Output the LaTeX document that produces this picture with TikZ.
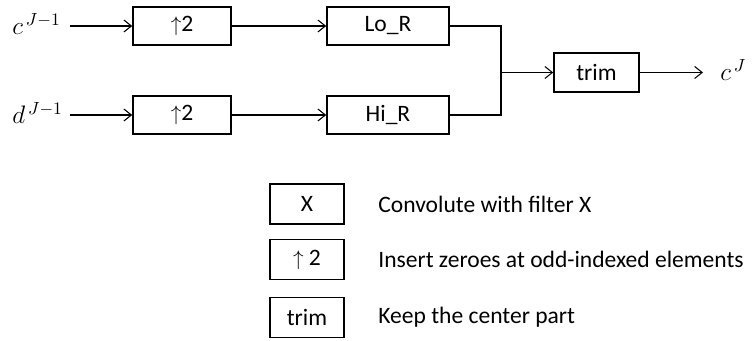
\documentclass[tikz,border=0pt]{standalone}
\usepackage{fontspec}
\setmainfont{Carlito}
\usetikzlibrary{positioning,arrows.meta}
\begin{document}
\begin{tikzpicture}[x=0.02cm, y=-0.02cm, font=\fontsize{13.4}{15}\selectfont]

    \tikzstyle{blk}=[draw, line width=0.9pt, minimum height=0.76cm, inner sep=0pt]
    \tikzstyle{lnk}=[-{Straight Barb[length=1.5mm,width=2.4mm]}, line width=0.6pt]
    \tikzstyle{sig}=[anchor=west, inner sep=0pt, font=\fontsize{14.5}{16}\selectfont]

    \useasboundingbox (0,0) rectangle (752,341);

    % upsampling
    \node[blk, minimum width=1.96cm] (upc) at (182,26) {{\large$\uparrow$}2};
    \node[blk, minimum width=1.96cm] (upd) at (182,115) {{\large$\uparrow$}2};

    % reconstruction filters
    \node[blk, minimum width=2.44cm] (lo) at (388,26) {Lo\_R};
    \node[blk, minimum width=2.44cm] (hi) at (388,115) {Hi\_R};

    \node[blk, minimum width=1.7cm, minimum height=0.78cm] (trim) at (596.5,72.5) {trim};

    % inputs and output
    \node[sig] (cin) at (12,24) {$c^{\,J-1}$};
    \node[sig] (din) at (12,113) {$d^{\,J-1}$};
    \node[sig] (cout) at (720,70) {$c^{\,J}$};
    \coordinate (cstart) at (70,26);
    \coordinate (dstart) at (70,115);
    \coordinate (join) at (501,72.5);
    \coordinate (outend) at (703,72.5);

    \draw[lnk] (cstart) -- (upc);
    \draw[lnk] (dstart) -- (upd);
    \draw[lnk] (upc) -- (lo);
    \draw[lnk] (upd) -- (hi);
    \draw[line width=0.6pt] (lo.east) -| (join) |- (hi.east);
    \draw[lnk] (join) -- (trim);
    \draw[lnk] (trim) -- (outend);

    % legend
    \foreach \y/\b/\t [count=\i] in {204/X/Convolute with filter X,
                                      259.5/{{\large$\uparrow$} 2}/Insert zeroes at odd-indexed elements,
                                      317.5/trim/Keep the center part} {
        \node[blk, minimum width=1.48cm, minimum height=0.8cm] (key\i) at (307,\y) {\b};
        \node[anchor=west, inner sep=0pt] (txt\i) at (378,\y) {\t};
    }

\end{tikzpicture}
\end{document}
